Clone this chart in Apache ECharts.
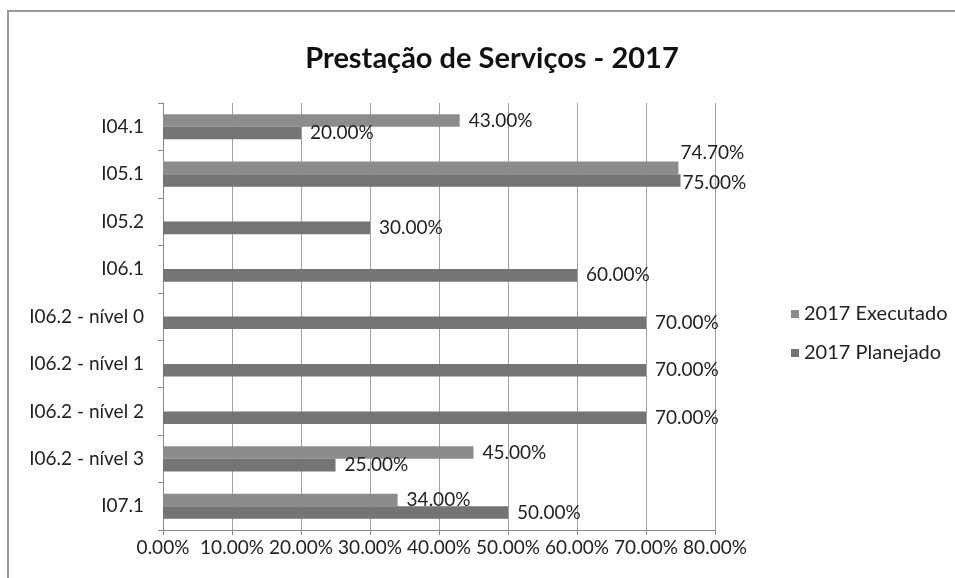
<!DOCTYPE html>
<html>
<head>
<meta charset="utf-8">
<title>Prestação de Serviços - 2017</title>
<script src="https://cdn.jsdelivr.net/npm/echarts@6/dist/echarts.min.js"></script>
<style>
  html, body { margin: 0; padding: 0; background: #fff; }
  #chart { width: 955px; height: 578px; }
</style>
</head>
<body>
<div id="chart"></div>
<script>
// dados
const categorias = ['I04.1', 'I05.1', 'I05.2', 'I06.1', 'I06.2 - nível 0', 'I06.2 - nível 1', 'I06.2 - nível 2', 'I06.2 - nível 3', 'I07.1']
const executado = [43, 74.7, null, null, null, null, null, 45, 34]
const planejado = [20, 75, 30, 60, 70, 70, 70, 25, 50]
const ticksX = [0, 10, 20, 30, 40, 50, 60, 70, 80]

const fonte = 'Lato, "Open Sans", sans-serif'
const fmt = v => Number(v).toFixed(2) + '%'

// rótulo do I05.1 é deslocado para não colidir com o outro
const itensExecutado = executado.map((v, i) => {
  if (i === 1) return { value: v, label: { offset: [0, -15], distance: 2 } }
  return v
})
const itensPlanejado = planejado.map((v, i) => {
  if (i === 1) return { value: v, label: { offset: [0, 2], distance: 2 } }
  return v
})

const chart = echarts.init(document.getElementById('chart'), null, { renderer: 'canvas' })

const labelComum = {
  show: true,
  position: 'right',
  distance: 9,
  color: '#222',
  fontFamily: fonte,
  fontSize: 19,
  formatter: p => (p.value == null ? '' : fmt(p.value))
}

const option = {
  backgroundColor: '#fff',
  animation: false,
  title: {
    text: 'Prestação de Serviços - 2017',
    left: 487,
    textAlign: 'center',
    top: 39,
    textStyle: { fontFamily: fonte, fontSize: 29, fontWeight: 'bold', color: '#111' }
  },
  legend: {
    orient: 'vertical',
    left: 786,
    top: 299,
    itemWidth: 8,
    itemHeight: 8,
    itemGap: 19,
    icon: 'rect',
    textStyle: { fontFamily: fonte, fontSize: 20, color: '#222' },
    data: ['2017 Executado', '2017 Planejado']
  },
  graphic: [
    {
      type: 'rect',
      shape: { x: 8, y: 11, width: 1000, height: 600 },
      style: { fill: 'none', stroke: '#9a9a9a', lineWidth: 2 },
      silent: true
    }
  ],
  grid: { left: 163, right: 240, top: 103, bottom: 48 },
  xAxis: {
    type: 'value',
    min: 0,
    max: 80,
    interval: 10,
    axisLine: { show: true, lineStyle: { color: '#888' } },
    axisTick: { show: true, length: 5, lineStyle: { color: '#888' } },
    axisLabel: {
      fontFamily: fonte,
      fontSize: 19,
      color: '#222',
      margin: 8,
      formatter: v => (ticksX.includes(v) ? fmt(v) : '')
    },
    splitLine: { show: true, lineStyle: { color: '#a0a0a0', width: 1 } }
  },
  yAxis: {
    type: 'category',
    data: categorias,
    inverse: true,
    axisLine: { show: true, lineStyle: { color: '#888' } },
    axisTick: { show: true, length: 5, lineStyle: { color: '#888' } },
    axisLabel: { fontFamily: fonte, fontSize: 19, color: '#222', margin: 19 },
    splitLine: { show: false }
  },
  series: [
    {
      name: '2017 Executado',
      type: 'bar',
      data: itensExecutado,
      barGap: '0%',
      barCategoryGap: '47%',
      itemStyle: { color: '#8c8c8c' },
      label: labelComum
    },
    {
      name: '2017 Planejado',
      type: 'bar',
      data: itensPlanejado,
      barGap: '0%',
      barCategoryGap: '47%',
      itemStyle: { color: '#747474' },
      label: labelComum
    }
  ]
}

chart.setOption(option)
</script>
</body>
</html>
